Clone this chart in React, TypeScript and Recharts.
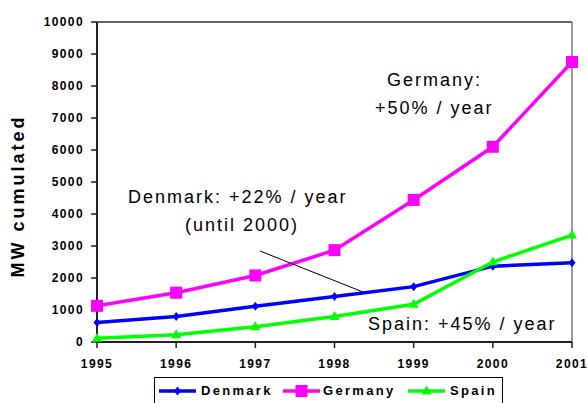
import React from 'react';
import {
  LineChart, Line, XAxis, YAxis, ReferenceLine,
} from 'recharts';

// years on the x axis
const years = ['1995', '1996', '1997', '1998', '1999', '2000', '2001'];

// installed wind power, MW cumulated
const denmark = [610, 800, 1120, 1420, 1730, 2370, 2480];
const germany = [1130, 1540, 2080, 2870, 4440, 6100, 8750];
const spain = [120, 230, 480, 800, 1180, 2500, 3340];

const yTicks = [0, 1000, 2000, 3000, 4000, 5000, 6000, 7000, 8000, 9000, 10000];

const FONT = '"Liberation Sans", Arial, sans-serif';

const data = years.map((year, i) => ({
  year,
  Denmark: denmark[i],
  Germany: germany[i],
  Spain: spain[i],
}));

const Diamond = ({ cx, cy, fill }: any) => (
  <path d={`M${cx},${cy - 4.5}L${cx + 3.5},${cy}L${cx},${cy + 4.5}L${cx - 3.5},${cy}Z`} fill={fill} />
);

const Square = ({ cx, cy, fill }: any) => (
  <rect x={cx - 6} y={cy - 6} width={12} height={12} fill={fill} />
);

const Triangle = ({ cx, cy, fill }: any) => (
  <path d={`M${cx},${cy - 5.5}L${cx + 5},${cy + 3.5}L${cx - 5},${cy + 3.5}Z`} fill={fill} />
);

const series = [
  { key: 'Denmark', color: '#0000FF', Dot: Diamond, lineX: 159, textX: 201 },
  { key: 'Germany', color: '#FF00FF', Dot: Square, lineX: 283, textX: 323 },
  { key: 'Spain', color: '#00FF00', Dot: Triangle, lineX: 408, textX: 450 },
];

const tickStyle = { fontSize: 12, fontWeight: 'bold', fill: '#000', fontFamily: FONT, letterSpacing: 1.4 };
const noteStyle = { fontSize: 18, fill: '#000', fontFamily: FONT, letterSpacing: 2 };

export default function App() {
  return (
    <div style={{ position: 'absolute', left: 0, top: 0, width: 587, height: 403, background: '#fff' }}>
      <LineChart width={587} height={403} data={data} margin={{ top: 22, right: 15, bottom: 0, left: 0 }}>
        <XAxis
          dataKey="year"
          height={61}
          interval={0}
          tick={tickStyle}
          tickSize={6}
          tickMargin={11}
          axisLine={{ stroke: '#222', strokeWidth: 2 }}
          tickLine={{ stroke: '#222', strokeWidth: 1.5 }}
        />
        <YAxis
          width={97}
          domain={[0, 10000]}
          ticks={yTicks}
          interval={0}
          tick={tickStyle}
          tickSize={6}
          tickMargin={7}
          axisLine={{ stroke: '#222', strokeWidth: 2 }}
          tickLine={{ stroke: '#222', strokeWidth: 1.5 }}
        />
        <ReferenceLine y={10000} stroke="#333" strokeWidth={1.5} />
        <ReferenceLine x="2001" stroke="#777" strokeWidth={1.5} />
        {series.map(({ key, color, Dot }) => (
          <Line
            key={key}
            type="linear"
            dataKey={key}
            stroke={color}
            strokeWidth={3.5}
            dot={(p: any) => <Dot key={p.index} cx={p.cx} cy={p.cy} fill={color} />}
            isAnimationActive={false}
          />
        ))}
      </LineChart>

      <svg width={587} height={403} style={{ position: 'absolute', left: 0, top: 0, pointerEvents: 'none' }}>
        <text
          x={24}
          y={196}
          transform="rotate(-90 24 196)"
          textAnchor="middle"
          fontSize={18}
          fontWeight="bold"
          fontFamily={FONT}
          letterSpacing={3}
          fill="#000"
        >
          MW cumulated
        </text>

        <text x={387} y={86} {...noteStyle}>Germany:</text>
        <text x={375} y={114} {...noteStyle}>+50% / year</text>
        <text x={128} y={203} {...noteStyle}>Denmark: +22% / year</text>
        <text x={185} y={231} {...noteStyle}>(until 2000)</text>
        <text x={368} y={330} {...noteStyle}>Spain: +45% / year</text>
        <line x1={260} y1={251} x2={363} y2={292} stroke="#000" strokeWidth={1} />

        <rect x={154.5} y={377.5} width={348} height={40} fill="none" stroke="#000" strokeWidth={1} />
        {series.map(({ key, color, Dot, lineX, textX }) => (
          <g key={key}>
            <line x1={lineX} y1={391} x2={lineX + 37} y2={391} stroke={color} strokeWidth={3.5} />
            <Dot cx={lineX + 18.5} cy={391} fill={color} />
            <text x={textX} y={395} fontSize={13} fontWeight="bold" fontFamily={FONT} letterSpacing={2.3} fill="#000">
              {key}
            </text>
          </g>
        ))}
      </svg>
    </div>
  );
}
